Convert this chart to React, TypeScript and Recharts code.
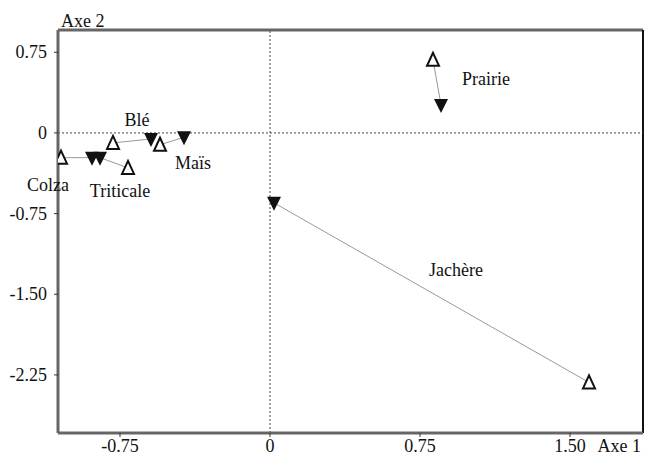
import { Label, ReferenceDot, ReferenceLine, Scatter, ScatterChart, XAxis, YAxis } from "recharts";

// crops, each with an "open" (up triangle) and "filled" (down triangle) position
const crops = ["Colza", "Triticale", "Blé", "Maïs", "Prairie", "Jachère"];
const openX = [-1.045, -0.71, -0.785, -0.55, 0.815, 1.595];
const openY = [-0.23, -0.325, -0.093, -0.11, 0.68, -2.32];
const filledX = [-0.89, -0.85, -0.595, -0.43, 0.855, 0.02];
const filledY = [-0.23, -0.23, -0.056, -0.04, 0.26, -0.65];

// label anchors (data units)
const labelX = [-1.11, -0.75, -0.665, -0.385, 1.08, 0.93];
const labelY = [-0.48, -0.54, 0.12, -0.28, 0.5, -1.27];

const xTicks = [-0.75, 0, 0.75, 1.5];
const yTicks = [0.75, 0, -0.75, -1.5, -2.25];
const xDomain = [-1.06, 1.865];
const yDomain = [-2.79, 0.957];

const FONT = "Liberation Serif, DejaVu Serif, Times New Roman, serif";
const txt = { fontFamily: FONT, fontSize: 18 };
const openPts = crops.map((c, i) => ({ name: c, x: openX[i], y: openY[i] }));
const filledPts = crops.map((c, i) => ({ name: c, x: filledX[i], y: filledY[i] }));

const fmt = (v: number) => (v === 0 ? "0" : v.toFixed(2));

const XTick = ({ x, y, payload }: any) => (
  <text x={x} y={y} dy={10} textAnchor="middle" fill="#111" style={txt}>
    {fmt(payload.value)}
  </text>
);
const YTick = ({ x, y, payload }: any) => (
  <text x={x} y={y} dy={6} textAnchor="end" fill="#111" style={txt}>
    {fmt(payload.value)}
  </text>
);

const UpTri = (p: any) => (
  <polygon
    points={`${p.cx},${p.cy - 7} ${p.cx - 6},${p.cy + 6} ${p.cx + 6},${p.cy + 6}`}
    fill="#fff"
    stroke="#111"
    strokeWidth={2}
  />
);
const DownTri = (p: any) => (
  <polygon
    points={`${p.cx - 7},${p.cy - 6} ${p.cx + 7},${p.cy - 6} ${p.cx},${p.cy + 8}`}
    fill="#111"
  />
);
const NoDot = () => <g />;

const NameLabel = ({ viewBox, value }: any) => (
  <text x={viewBox.x} y={viewBox.y} dy={6} textAnchor="middle" fill="#111" style={txt}>
    {value}
  </text>
);

export default function App() {
  return (
    <div style={{ position: "absolute", left: 0, top: 0, background: "#fff" }}>
      <ScatterChart width={645} height={458} margin={{ top: 30, right: 2, bottom: 0, left: 0 }}>
        <XAxis
          type="number"
          dataKey="x"
          domain={xDomain}
          ticks={xTicks}
          allowDataOverflow
          height={25}
          axisLine={{ stroke: "#666", strokeWidth: 3 }}
          tickLine={{ stroke: "#333" }}
          tickSize={4}
          tickMargin={5}
          tick={<XTick />}
        >
          <Label
            content={({ viewBox }: any) => (
              <text x={viewBox.x + viewBox.width - 2} y={viewBox.y + 19} textAnchor="end" fill="#111" style={txt}>
                Axe 1
              </text>
            )}
          />
        </XAxis>
        <YAxis
          type="number"
          dataKey="y"
          domain={yDomain}
          ticks={yTicks}
          allowDataOverflow
          width={58}
          axisLine={{ stroke: "#666", strokeWidth: 3 }}
          tickLine={{ stroke: "#333" }}
          tickSize={4}
          tickMargin={7}
          tick={<YTick />}
        >
          <Label
            content={({ viewBox }: any) => (
              <text x={viewBox.x + viewBox.width + 3} y={viewBox.y - 3} fill="#111" style={txt}>
                Axe 2
              </text>
            )}
          />
        </YAxis>
        {/* frame: top and right edges */}
        <ReferenceLine y={yDomain[1]} stroke="#666" strokeWidth={3} ifOverflow="visible" />
        <ReferenceLine x={xDomain[1]} stroke="#111" strokeWidth={2} ifOverflow="visible" />
        <ReferenceLine x={0} stroke="#444" strokeDasharray="2 2" />
        <ReferenceLine y={0} stroke="#444" strokeDasharray="2 2" />
        {crops.map((c, i) => (
          <Scatter
            key={c}
            data={[openPts[i], filledPts[i]]}
            line={{ stroke: "#999", strokeWidth: 1 }}
            shape={NoDot}
            isAnimationActive={false}
          />
        ))}
        <Scatter data={filledPts} shape={DownTri} isAnimationActive={false} />
        <Scatter data={openPts} shape={UpTri} isAnimationActive={false} />
        {crops.map((c, i) => (
          <ReferenceDot key={c} x={labelX[i]} y={labelY[i]} r={0} ifOverflow="visible" stroke="none">
            <Label value={c} content={<NameLabel />} />
          </ReferenceDot>
        ))}
      </ScatterChart>
    </div>
  );
}
